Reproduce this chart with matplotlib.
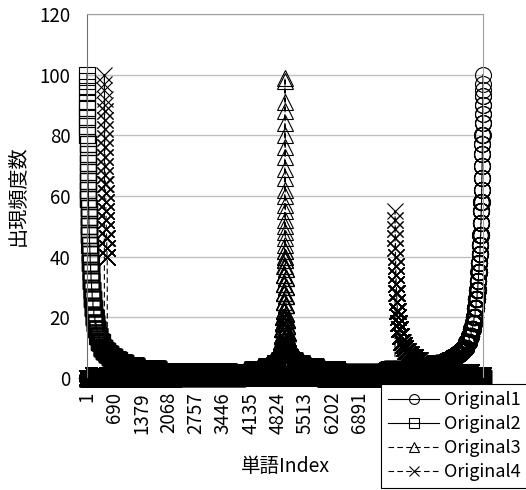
import numpy as np
import matplotlib
matplotlib.use("Agg")
import matplotlib.pyplot as plt

plt.rcParams['font.family'] = ['Noto Sans CJK JP', 'DejaVu Sans']

# word index runs 1..10000, every value holds from its start index to the next one
n_words = 10000
# labels every 689 words; the ones further right sit under the legend
tick_labels = [1, 690, 1379, 2068, 2757, 3446, 4135, 4824, 5513, 6202, 6891]

o1_start = [1, 4001, 5501, 7501, 8401, 8801, 9051, 9201, 9321, 9421,
            9501, 9581, 9651, 9701, 9741, 9771, 9801, 9826, 9851, 9871,
            9886, 9901, 9913, 9925, 9935, 9944, 9952, 9959, 9965, 9970,
            9975, 9979, 9983, 9986, 9989, 9992, 9994, 9996, 9998, 9999, 10000]
o1_value = [0, 1, 2, 3, 4, 5, 6, 7, 8, 9,
            10, 12, 14, 16, 18, 20, 23, 26, 29, 32,
            35, 38, 41, 44, 47, 51, 55, 58, 62, 66,
            70, 74, 77, 80, 84, 87, 90, 93, 95, 97, 100]

o2_start = [1, 2, 3, 4, 5, 6, 8, 10, 12, 14,
            17, 20, 23, 26, 30, 34, 39, 44, 50, 56,
            63, 71, 80, 90, 102, 115, 130, 150, 172, 200,
            230, 265, 310, 370, 430, 500, 580, 680, 800, 960,
            1250, 1800, 3600, 6000]
o2_value = [100, 98, 96, 94, 91, 89, 86, 83, 80, 77,
            74, 71, 68, 65, 62, 59, 56, 53, 50, 47,
            44, 41, 38, 35, 32, 29, 26, 23, 20, 18,
            16, 14, 12, 10, 9, 8, 7, 6, 5, 4,
            3, 2, 1, 0]

o3_start = [1, 2200, 3400, 4000, 4350, 4560, 4680, 4750, 4800, 4840,
            4870, 4890, 4905, 4920, 4935, 4948, 4958, 4966, 4972, 4977,
            4981, 4984, 4987, 4989, 4991, 4992, 4993, 4994, 4995, 4996,
            4997, 4998, 4999, 5000, 5001, 5002, 5003, 5004, 5005, 5006,
            5007, 5008, 5009, 5010, 5012, 5014, 5016, 5019, 5022, 5026,
            5031, 5037, 5045, 5055, 5070, 5085, 5100, 5125, 5150, 5190,
            5240, 5310, 5420, 5600, 5950, 6500, 7600, 8800]
o3_value = [0, 1, 2, 3, 4, 5, 6, 7, 8, 9,
            10, 11, 12, 14, 16, 18, 20, 22, 25, 28,
            31, 34, 37, 40, 44, 48, 52, 57, 62, 69,
            76, 84, 91, 99, 98, 88, 80, 73, 66, 60,
            55, 50, 46, 42, 39, 36, 33, 30, 27, 24,
            21, 19, 17, 15, 13, 12, 11, 10, 9, 8,
            7, 6, 5, 4, 3, 2, 1, 0]

o4_start = [1, 150, 440, 441, 442, 443, 444, 445, 447, 449,
            451, 453, 456, 459, 462, 465, 469, 473, 477, 482,
            487, 492, 498, 504, 512, 2000, 6000, 7780, 7781, 7783,
            7785, 7788, 7791, 7795, 7800, 7806, 7813, 7822, 7833, 7846,
            7860, 7880, 7905, 7935, 7970, 8000, 8040, 8100, 8180, 8280,
            8400, 8600, 8900, 9300, 9700]
o4_value = [0, 1, 100, 97, 95, 92, 90, 88, 85, 82,
            79, 76, 73, 70, 67, 64, 61, 58, 55, 52,
            49, 46, 43, 40, 1, 0, 1, 55, 52, 49,
            46, 43, 40, 37, 34, 31, 28, 25, 22, 20,
            18, 16, 14, 12, 11, 10, 9, 8, 7, 6,
            5, 4, 3, 2, 1]

series_names = ['Original1', 'Original2', 'Original3', 'Original4']


def expand(starts, values):
    lengths = np.diff(starts + [n_words + 1])
    return np.repeat(values, lengths)


x = np.arange(1, n_words + 1)
series = [expand(o1_start, o1_value), expand(o2_start, o2_value),
          expand(o3_start, o3_value), expand(o4_start, o4_value)]
markers = ['o', 's', '^', 'x']
dash = (0, (5, 3))
styles = ['-', '-', dash, dash]

fig = plt.figure(figsize=(5.26, 4.90), dpi=100)
ax = fig.add_axes([87 / 526, 1 - 378 / 490, 396 / 526, 364 / 490])

for y, name, mk, ls in zip(series, series_names, markers, styles):
    ax.plot(x, y, color='black', lw=0.8, ls=ls, marker=mk, ms=11.5,
            mfc='none', mec='black', mew=0.8, label=name, clip_on=False)

ax.set_xlim(0.5, n_words + 0.5)
ax.set_ylim(0, 120)
ax.set_yticks(range(0, 121, 20))
ax.set_xticks(tick_labels)
ax.set_xticklabels([str(t) for t in tick_labels], rotation=90)
ax.tick_params(axis='both', length=0, labelsize=13.5)
ax.tick_params(axis='y', pad=12)
ax.tick_params(axis='x', pad=10)

ax.grid(axis='y', color='#c0c0c0', lw=1)
ax.set_axisbelow(True)
ax.spines['top'].set_color('#a0a0a0')
ax.spines['right'].set_color('#a0a0a0')
ax.spines['left'].set_color('#707070')
ax.spines['bottom'].set_color('black')

ax.set_ylabel('出現頻度数', fontsize=14.5)
ax.yaxis.set_label_coords(-0.147, 0.5)
ax.set_xlabel('単語Index', fontsize=14)
ax.xaxis.set_label_coords(0.5, -0.215)

leg = ax.legend(loc='upper left', bbox_to_anchor=(381 / 526, 1 - 384 / 490),
                bbox_transform=fig.transFigure, fontsize=13, frameon=True,
                fancybox=False, edgecolor='black', framealpha=1,
                handlelength=2.8, handletextpad=0.3, borderpad=0.4,
                labelspacing=0.33, borderaxespad=0, markerscale=0.62)
leg.get_frame().set_linewidth(0.8)

plt.savefig('out.png', dpi=100)
